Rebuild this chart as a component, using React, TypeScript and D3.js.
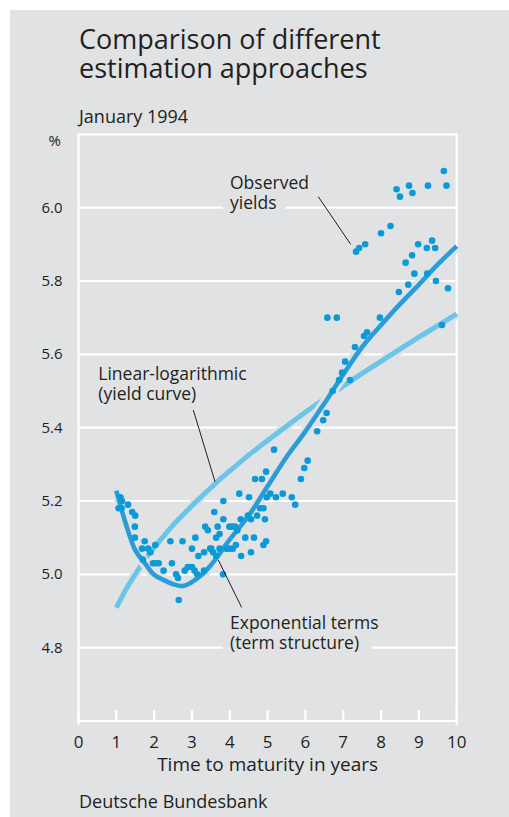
import React from "react";
import * as d3 from "d3";

// ---- Data ----
const curveMaturity = [1, 1.25, 1.5, 1.75, 2, 2.25, 2.5, 2.75, 3, 3.25, 3.5, 3.75, 4, 4.5, 5, 5.5, 6, 6.5, 7, 7.5, 8, 8.5, 9, 9.5, 10];
const linearLogarithmic = [4.909, 4.958, 5.0, 5.039, 5.073, 5.104, 5.134, 5.161, 5.187, 5.212, 5.236, 5.26, 5.282, 5.325, 5.365, 5.404, 5.442, 5.478, 5.513, 5.548, 5.581, 5.614, 5.647, 5.678, 5.71];
const exponentialTerms = [5.228, 5.138, 5.066, 5.031, 4.999, 4.985, 4.973, 4.968, 4.979, 4.998, 5.025, 5.059, 5.095, 5.16, 5.24, 5.32, 5.39, 5.466, 5.545, 5.62, 5.68, 5.737, 5.79, 5.845, 5.895];

const observedMaturity = [
  1.11, 1.15, 1.06, 1.14, 1.31, 1.42, 1.5, 1.49, 1.49, 1.75, 1.68, 1.84, 2.03, 1.9, 1.7, 1.97, 2.03, 2.12, 2.25, 2.43,
  2.75, 3.09, 3.0, 3.35, 3.42, 3.59, 3.51, 3.32, 3.17, 2.47, 2.58, 2.63, 2.81, 2.89, 3.0, 3.07, 3.14, 3.32, 2.65, 3.82,
  3.83, 3.68, 3.83, 3.99, 4.06, 4.14, 4.2, 4.29, 4.48, 4.56, 4.72, 4.8, 4.89, 4.93, 3.64, 3.73, 3.48, 3.56, 3.73, 3.91,
  3.99, 4.08, 4.16, 4.41, 4.64, 4.3, 4.56, 4.89, 4.96, 3.64, 5.17, 4.96, 4.67, 4.85, 4.25, 4.51, 4.98, 5.07, 5.22, 5.4,
  5.64, 5.73, 5.88, 5.97, 6.06, 6.31, 6.47, 6.56, 6.72, 6.89, 7.18, 6.97, 7.05, 7.31, 7.55, 7.63, 6.58, 6.83, 7.97, 8.47,
  8.72, 8.88, 9.22, 9.45, 9.77, 8.65, 8.82, 8.98, 9.21, 9.43, 9.35, 9.61, 7.34, 7.42, 7.58, 8.0, 8.25, 8.41, 8.5, 8.74,
  8.83, 9.24, 9.66, 9.73,
];
const observedYield = [
  5.21, 5.2, 5.18, 5.18, 5.19, 5.17, 5.16, 5.13, 5.1, 5.09, 5.07, 5.07, 5.08, 5.06, 5.04, 5.03, 5.03, 5.03, 5.01, 5.09,
  5.09, 5.1, 5.07, 5.13, 5.12, 5.17, 5.07, 5.06, 5.05, 5.03, 5.0, 4.99, 5.01, 5.02, 5.02, 5.01, 5.0, 5.01, 4.93, 5.0,
  5.2, 5.13, 5.15, 5.13, 5.13, 5.13, 5.12, 5.15, 5.16, 5.15, 5.16, 5.18, 5.18, 5.15, 5.1, 5.11, 5.07, 5.06, 5.07, 5.07,
  5.07, 5.07, 5.08, 5.1, 5.1, 5.05, 5.06, 5.08, 5.09, 5.05, 5.34, 5.28, 5.26, 5.26, 5.22, 5.21, 5.21, 5.22, 5.21, 5.22,
  5.21, 5.19, 5.26, 5.29, 5.31, 5.39, 5.42, 5.44, 5.5, 5.53, 5.53, 5.55, 5.58, 5.62, 5.65, 5.66, 5.7, 5.7, 5.7, 5.77,
  5.79, 5.82, 5.82, 5.8, 5.78, 5.85, 5.87, 5.9, 5.89, 5.89, 5.91, 5.68, 5.88, 5.89, 5.9, 5.93, 5.95, 6.05, 6.03, 6.06,
  6.04, 6.06, 6.1, 6.06,
];

const xTicks = [0, 1, 2, 3, 4, 5, 6, 7, 8, 9, 10];
const yTicks = [4.8, 5.0, 5.2, 5.4, 5.6, 5.8, 6.0];

const BG = "#e1e2e4";
const TEXT = "#231f20";
const FONT = "'Open Sans', sans-serif";

export default function App() {
  const W = 509;
  const H = 817;
  const x = d3.scaleLinear().domain([0, 10]).range([78.5, 456.7]);
  const y = d3.scaleLinear().domain([4.6, 6.2]).range([721, 134.3]);

  const mkLine = (vals: number[]) =>
    d3
      .line<number>()
      .x((_, i) => x(curveMaturity[i]))
      .y((d) => y(d))
      .curve(d3.curveCatmullRom.alpha(0.5))(vals) || "";

  const lightPath = mkLine(linearLogarithmic);
  const darkPath = mkLine(exponentialTerms);

  const x0 = x(0);
  const x10 = x(10);
  const yTop = y(6.2);
  const yBot = y(4.6);

  return (
    <svg
      width={W}
      height={H}
      style={{ position: "absolute", left: 0, top: 0, display: "block" }}
      fontFamily={FONT}
    >
      <rect x={10} y={10} width={W - 10} height={H - 10} fill={BG} />

      {/* Title */}
      <text x={79} y={48.5} fontSize={27} fill={TEXT}>Comparison of different</text>
      <text x={79} y={77.5} fontSize={27} fill={TEXT}>estimation approaches</text>
      <text x={79} y={123} fontSize={18} fill={TEXT}>January 1994</text>

      {/* Gridlines */}
      {yTicks.map((t) => (
        <line key={t} x1={x0} x2={x10} y1={y(t)} y2={y(t)} stroke="#fff" strokeWidth={2.2} />
      ))}
      {/* frame */}
      <line x1={x0} x2={x10} y1={yTop} y2={yTop} stroke="#fff" strokeWidth={2.2} />
      <line x1={x0} x2={x0} y1={yTop - 1} y2={yBot + 4} stroke="#fff" strokeWidth={2.2} />
      <line x1={x10} x2={x10} y1={yTop - 1} y2={yBot + 4} stroke="#fff" strokeWidth={2.2} />
      <line x1={x0} x2={x10} y1={yBot} y2={yBot} stroke="#fff" strokeWidth={2.2} />
      {xTicks.map((t) => (
        <line key={t} x1={x(t)} x2={x(t)} y1={yBot - 11} y2={yBot + 1} stroke="#fff" strokeWidth={2.2} />
      ))}

      {/* gaps in gridlines behind labels */}
      <rect x={222.7} y={y(6.0) - 3} width={63} height={6} fill={BG} />
      <rect x={222.7} y={y(4.8) - 3} width={149} height={6} fill={BG} />

      {/* Y tick labels */}
      <text x={61} y={146} fontSize={15} fill={TEXT} textAnchor="end">%</text>
      {yTicks.map((t) => (
        <text key={t} x={62.5} y={y(t) + 5} fontSize={15} fill={TEXT} textAnchor="end">
          {t.toFixed(1)}
        </text>
      ))}

      {/* X tick labels */}
      {xTicks.map((t) => (
        <text key={t} x={x(t)} y={747.5} fontSize={17} fill={TEXT} textAnchor="middle">
          {t}
        </text>
      ))}
      <text x={(x0 + x10) / 2} y={771} fontSize={19} fill={TEXT} textAnchor="middle">
        Time to maturity in years
      </text>
      <text x={79} y={807.5} fontSize={18} fill={TEXT}>Deutsche Bundesbank</text>

      {/* Curves with halos */}
      <path d={lightPath} fill="none" stroke={BG} strokeWidth={10} />
      <path d={lightPath} fill="none" stroke="#6cc4e7" strokeWidth={5} />
      <path d={darkPath} fill="none" stroke={BG} strokeWidth={11} />
      <path d={darkPath} fill="none" stroke="#2a9dd8" strokeWidth={4.6} />

      {/* Observed points */}
      {observedMaturity.map((m, i) => (
        <circle key={i} cx={x(m)} cy={y(observedYield[i])} r={3.3} fill="#0a9ad8" />
      ))}

      {/* Annotations */}
      <text x={230} y={189} fontSize={17.5} fill={TEXT}>Observed</text>
      <text x={230} y={209} fontSize={17.5} fill={TEXT}>yields</text>
      <line x1={318.3} y1={196.7} x2={350.7} y2={244.3} stroke={TEXT} strokeWidth={1} />

      <text x={98.3} y={380} fontSize={17.5} fill={TEXT}>Linear-logarithmic</text>
      <text x={98.3} y={399.5} fontSize={17.5} fill={TEXT}>(yield curve)</text>
      <line x1={193.3} y1={410} x2={215} y2={481.7} stroke={TEXT} strokeWidth={1} />

      <text x={230} y={629.3} fontSize={17.5} fill={TEXT}>Exponential terms</text>
      <text x={230} y={648.8} fontSize={17.5} fill={TEXT}>(term structure)</text>
      <line x1={218.3} y1={560} x2={241.7} y2={607.5} stroke={TEXT} strokeWidth={1} />
    </svg>
  );
}
